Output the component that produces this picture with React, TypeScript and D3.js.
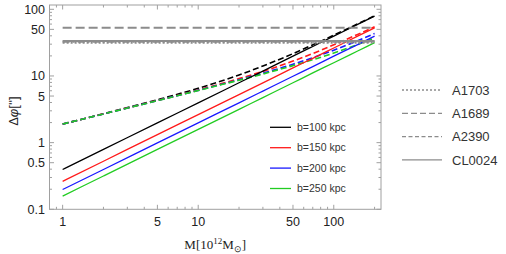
import * as d3 from "d3";

// mass values in 10^12 Msun
const masses = [1, 2, 5, 10, 20, 30, 50, 70, 100, 150, 200];

// point-lens deflection (solid) for each impact parameter
const solidB100 = [0.395, 0.79, 1.98, 3.95, 7.9, 11.85, 19.8, 27.7, 39.5, 59.3, 79];
const solidB150 = [0.263, 0.526, 1.32, 2.63, 5.26, 7.89, 13.2, 18.4, 26.3, 39.5, 52.6];
const solidB200 = [0.198, 0.395, 0.99, 1.98, 3.95, 5.93, 9.9, 13.8, 19.8, 29.6, 39.5];
const solidB250 = [0.158, 0.316, 0.79, 1.58, 3.16, 4.74, 7.9, 11.1, 15.8, 23.7, 31.6];

// dashed curves
const dashB100 = [1.9, 2.71, 4.39, 6.53, 10.35, 14.1, 21.6, 29.3, 40.9, 60.4, 80];
const dashB150 = [1.9, 2.7, 4.29, 6.17, 9.12, 11.7, 16.7, 21.7, 29.3, 42.0, 54.8];
const dashB200 = [1.9, 2.69, 4.27, 6.08, 8.78, 11.0, 15.0, 18.8, 24.4, 33.8, 43.3];
const dashB250 = [1.9, 2.69, 4.26, 6.05, 8.64, 10.7, 14.3, 17.5, 22.1, 29.6, 37.1];

const seriesLabels = ["b=100 kpc", "b=150 kpc", "b=200 kpc", "b=250 kpc"];
const seriesColors = ["#000000", "#ff1a1a", "#1a1aff", "#22cc22"];

// observed Einstein radii of clusters
const clusterNames = ["A1703", "A1689", "A2390", "CL0024"];
const clusterValues = [31.5, 53, 32.5, 33.5];
const clusterDash = ["2,2", "9,4", "7,3,2,3", ""];
const clusterLegendDash = ["2,2", "6,3", "4,2.5", ""];

const xMajor = [1, 5, 10, 50, 100];
const xMinor = [0.8, 0.9, 2, 3, 4, 6, 7, 8, 9, 20, 30, 40, 60, 70, 80, 90, 200];
const yMajor = [0.1, 0.5, 1, 5, 10, 50, 100];
const yMinor = [0.2, 0.3, 0.4, 0.6, 0.7, 0.8, 0.9, 2, 3, 4, 6, 7, 8, 9, 20, 30, 40, 60, 70, 80, 90];

export default function App() {
  const W = 506;
  const H = 254;
  const left = 49.5;
  const right = 381;
  const top = 5;
  const bottom = 209.3;

  const x = d3.scaleLog().domain([0.8, 223]).range([left, right]);
  const y = d3.scaleLog().domain([0.1, 116]).range([bottom, top]);

  const line = d3
    .line<number>()
    .x((_, i) => x(masses[i]))
    .y((d) => y(d))
    .curve(d3.curveMonotoneX);

  const solids = [solidB100, solidB150, solidB200, solidB250];
  const dashes = [dashB100, dashB150, dashB200, dashB250];

  const axisColor = "#a0a0a0";
  const labelColor = "#222";
  const sans = "'Liberation Sans', Arial, sans-serif";
  const serif = "'Liberation Serif', 'Times New Roman', serif";

  return (
    <div style={{ position: "fixed", left: 0, top: 0 }}>
      <svg width={W} height={H} style={{ display: "block", background: "#fff" }}>
        <defs>
          <clipPath id="plot">
            <rect x={left} y={top} width={right - left} height={bottom - top} />
          </clipPath>
        </defs>

        <g clipPath="url(#plot)">
          {dashes.map((d, i) => (
            <path
              key={"d" + i}
              d={line(d) || ""}
              fill="none"
              stroke={seriesColors[i]}
              strokeWidth={1.6}
              strokeDasharray="6,3"
            />
          ))}
          {solids.map((d, i) => (
            <path key={"s" + i} d={line(d) || ""} fill="none" stroke={seriesColors[i]} strokeWidth={1.3} />
          ))}
          {clusterValues.map((v, i) => (
            <line
              key={"c" + i}
              x1={x(masses[0])}
              x2={x(masses[masses.length - 1])}
              y1={y(v)}
              y2={y(v)}
              stroke="#8c8c8c"
              strokeWidth={2}
              strokeDasharray={clusterDash[i] || undefined}
            />
          ))}
        </g>

        {/* frame */}
        <rect x={left} y={top} width={right - left} height={bottom - top} fill="none" stroke={axisColor} strokeWidth={1} />

        {/* x ticks */}
        {xMajor.concat(xMinor).map((t, i) => {
          const len = xMajor.includes(t) ? 4.5 : 2.5;
          return (
            <g key={"xt" + i} stroke={axisColor}>
              <line x1={x(t)} x2={x(t)} y1={bottom} y2={bottom - len} />
              <line x1={x(t)} x2={x(t)} y1={top} y2={top + len} />
            </g>
          );
        })}
        {xMajor.map((t) => (
          <text key={"xl" + t} x={x(t)} y={226} textAnchor="middle" fontFamily={sans} fontSize={12.5} fill={labelColor}>
            {t}
          </text>
        ))}

        {/* y ticks */}
        {yMajor.concat(yMinor).map((t, i) => {
          const len = yMajor.includes(t) ? 4.5 : 2.5;
          return (
            <g key={"yt" + i} stroke={axisColor}>
              <line x1={left} x2={left + len} y1={y(t)} y2={y(t)} />
              <line x1={right} x2={right - len} y1={y(t)} y2={y(t)} />
            </g>
          );
        })}
        {yMajor.map((t) => (
          <text
            key={"yl" + t}
            x={45}
            y={y(t)}
            dy="0.36em"
            textAnchor="end"
            fontFamily={sans}
            fontSize={12.5}
            fill={labelColor}
          >
            {t}
          </text>
        ))}

        {/* axis titles */}
        <text x={(left + right) / 2} y={249} textAnchor="middle" fontFamily={serif} fontSize={13} fill={labelColor}>
          M[10
          <tspan dy={-5} fontSize={9}>
            12
          </tspan>
          <tspan dy={5}>M</tspan>
          <tspan dy={3} fontSize={9}>
            ⊙
          </tspan>
          <tspan dy={-3}>]</tspan>
        </text>
        <text
          transform={`translate(18,${(top + bottom) / 2 + 4}) rotate(-90)`}
          textAnchor="middle"
          fontFamily={sans}
          fontSize={13}
          fill={labelColor}
        >
          Δ<tspan fontStyle="italic">φ</tspan>['']
        </text>

        {/* inner legend */}
        {seriesLabels.map((s, i) => {
          const ly = 127.3 + i * 20.4;
          return (
            <g key={"lg" + i}>
              <line x1={270} x2={291} y1={ly} y2={ly} stroke={seriesColors[i]} strokeWidth={1.3} />
              <text x={297} y={ly} dy="0.36em" fontFamily={sans} fontSize={10.5} fill="#333">
                {s}
              </text>
            </g>
          );
        })}

        {/* outer legend */}
        {clusterNames.map((s, i) => {
          const ly = 90 + i * 23.3;
          return (
            <g key={"cl" + i}>
              <line
                x1={402}
                x2={442}
                y1={ly}
                y2={ly}
                stroke="#8c8c8c"
                strokeWidth={1.3}
                strokeDasharray={clusterLegendDash[i] || undefined}
              />
              <text x={452} y={ly} dy="0.36em" fontFamily={sans} fontSize={13} fill="#333">
                {s}
              </text>
            </g>
          );
        })}
      </svg>
    </div>
  );
}
